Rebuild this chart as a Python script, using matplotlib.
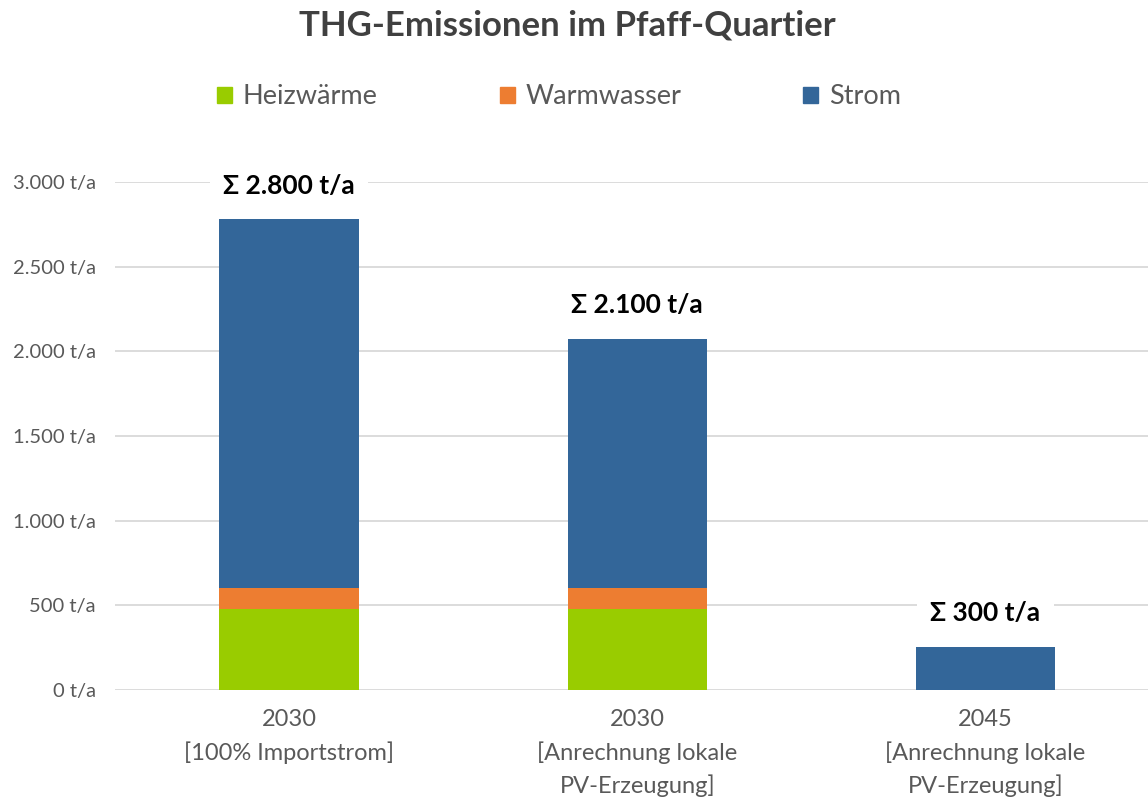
import numpy as np
import matplotlib.pyplot as plt
from matplotlib.patches import Patch
from matplotlib.ticker import FuncFormatter

plt.rcParams['font.family'] = ['Lato', 'DejaVu Sans']

# data
categories = ["2030\n[100% Importstrom]",
              "2030\n[Anrechnung lokale\nPV-Erzeugung]",
              "2045\n[Anrechnung lokale\nPV-Erzeugung]"]
heizwaerme = [480, 480, 0]
warmwasser = [120, 120, 0]
strom = [2180, 1475, 255]
total_labels = ["Σ 2.800 t/a", "Σ 2.100 t/a", "Σ 300 t/a"]

series_names = ["Heizwärme", "Warmwasser", "Strom"]
colors = ["#99cc00", "#ed7d31", "#336699"]

fig = plt.figure(figsize=(11.48, 7.98), dpi=100)
ax = fig.add_axes([115/1148, 1 - 690/798, 1 - 115/1148, (690 - 182)/798])

x = np.arange(len(categories))
w = 0.4
h = np.array(heizwaerme)
ww = np.array(warmwasser)
s = np.array(strom)
ax.bar(x, h, w, color=colors[0], zorder=3)
ax.bar(x, ww, w, bottom=h, color=colors[1], zorder=3)
ax.bar(x, s, w, bottom=h + ww, color=colors[2], zorder=3)

tops = h + ww + s
for xi, top, lab in zip(x, tops, total_labels):
    ax.annotate(lab, (xi, top), xytext=(0, 24), textcoords="offset points",
                ha="center", va="center", fontsize=19, fontweight="bold",
                color="black", zorder=5, annotation_clip=False,
                bbox=dict(boxstyle="square,pad=0.5", fc="white", ec="none"))

ax.set_xlim(-0.5, 2.467)
ax.set_ylim(0, 3000)
ax.set_yticks(np.arange(0, 3001, 500))
ax.yaxis.set_major_formatter(FuncFormatter(lambda v, p: f"{v:,.0f} t/a".replace(",", ".")))
ax.grid(axis="y", color="#d9d9d9", linewidth=1.3, zorder=0)
ax.set_axisbelow(True)
for sp in ax.spines.values():
    sp.set_visible(False)
ax.tick_params(axis="y", length=0, pad=14, labelsize=14.5, labelcolor="#595959")
ax.tick_params(axis="x", length=0, pad=14, labelsize=17, labelcolor="#595959")
ax.set_xticks(x)
ax.set_xticklabels(categories, linespacing=1.57)

fig.text(0.494, 1 - 25/798, "THG-Emissionen im Pfaff-Quartier", ha="center", va="center",
         fontsize=25, fontweight="bold", color="#404040")

handles = [Patch(color=c) for c in colors]
fig.legend(handles, series_names, loc="center", bbox_to_anchor=(0.487, 1 - 97/798),
           ncol=3, frameon=False, fontsize=19.5, labelcolor="#595959",
           handlelength=0.55, handleheight=0.55, handletextpad=0.4, columnspacing=4.5)

fig.savefig("out.png", dpi=100)
